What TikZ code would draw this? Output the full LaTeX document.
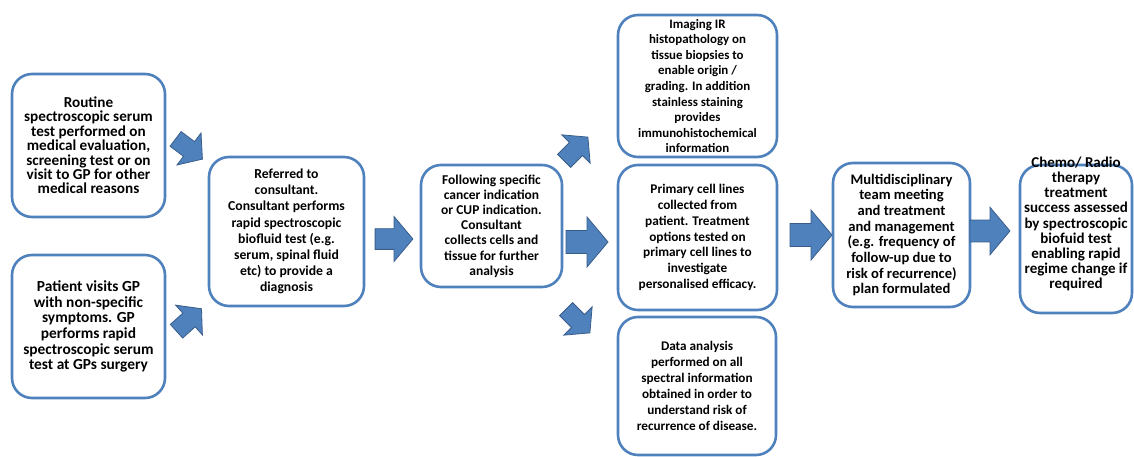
\documentclass[tikz,border=0pt]{standalone}
\usepackage{fontspec}
\setmainfont{Carlito}
\definecolor{boxblue}{HTML}{4F81BD}
\definecolor{arrowblue}{HTML}{4F81BD}
\definecolor{arrowedge}{HTML}{385D8A}
\newcommand{\stagefont}[2]{\bfseries\fontsize{#1}{#2}\selectfont}
\tikzset{
  stage/.style={draw=boxblue, line width=2.6pt, rounded corners=20pt, fill=white,
    align=center, text=black, inner sep=1pt, font=\stagefont{14}{15.6}},
  stagetext/.style={align=center, text=black, inner sep=0pt, font=\stagefont{15}{15.1}},
  flowarrow/.pic={
    \draw[fill=arrowblue, draw=arrowedge, line width=0.8pt, line join=miter]
      (-21,-11.5) -- (0,-11.5) -- (0,-25) -- (21,0) -- (0,25) -- (0,11.5) -- (-21,11.5) -- cycle;
  }
}
\begin{document}
\begin{tikzpicture}[x=1pt, y=-1pt]
  \useasboundingbox (0,0) rectangle (1134,457);

  % Entry points
  \node[stage, minimum width=153pt, minimum height=143pt, font=\stagefont{15.2}{14.4}]
    (routine) at (88.5,145.5)
    {Routine\\spectroscopic serum\\test performed on\\medical evaluation,\\screening test or on\\visit to GP for other\\medical reasons};
  \node[stage, minimum width=153pt, minimum height=143pt, font=\stagefont{15.4}{15.6}]
    (patient) at (88.5,326.5)
    {Patient visits GP\\with non-specific\\symptoms. GP\\performs rapid\\spectroscopic serum\\test at GPs surgery};

  % Consultant stages
  \node[stage, minimum width=155pt, minimum height=149pt, font=\stagefont{13.7}{16.1}]
    (referred) at (286.5,231.5)
    {Referred to\\consultant.\\Consultant performs\\rapid spectroscopic\\biofluid test (e.g.\\serum, spinal fluid\\etc) to provide a\\diagnosis};
  \node[stage, minimum width=141pt, minimum height=122pt, font=\stagefont{13.5}{15.2}]
    (following) at (491.5,226)
    {Following specific\\cancer indication\\or CUP indication.\\Consultant\\collects cells and\\tissue for further\\analysis};

  % Analysis branches
  \node[stage, minimum width=159pt, minimum height=142pt, font=\stagefont{12.9}{15.6}]
    (imaging) at (697.5,86)
    {Imaging IR\\histopathology on\\tissue biopsies to\\enable origin /\\grading. In addition\\stainless staining\\provides\\immunohistochemical\\information};
  \node[stage, minimum width=159pt, minimum height=145pt, font=\stagefont{13.3}{15.8}]
    (primary) at (697.5,237.5)
    {Primary cell lines\\collected from\\patient. Treatment\\options tested on\\primary cell lines to\\investigate\\personalised efficacy.};
  \node[stage, minimum width=158pt, minimum height=138pt, font=\stagefont{13.2}{16}]
    (dataan) at (697,386)
    {Data analysis\\performed on all\\spectral information\\obtained in order to\\understand risk of\\recurrence of disease.};

  % Treatment
  \node[stage, minimum width=137pt, minimum height=144pt, font=\stagefont{14.6}{15.7}]
    (mdt) at (901.5,235)
    {Multidisciplinary\\team meeting\\and treatment\\and management\\(e.g. frequency of\\follow-up due to\\risk of recurrence)\\plan formulated};
  \node[stage, minimum width=112pt, minimum height=148pt] (chemo) at (1076,239) {};
  \node[stagetext] (chemotext) at (1076,224)
    {Chemo/ Radio\\therapy\\treatment\\success assessed\\by spectroscopic\\biofuid test\\enabling rapid\\regime change if\\required};

  % Block arrows
  \pic[scale=0.8, rotate=-37] at (189,149) {flowarrow};
  \pic[scale=0.8, rotate=42] at (189,320) {flowarrow};
  \pic[scale=0.9] at (394,239) {flowarrow};
  \pic[scale=0.8, rotate=45] at (576,149) {flowarrow};
  \pic at (587,242) {flowarrow};
  \pic[scale=0.8, rotate=-45] at (578,321) {flowarrow};
  \pic at (811,235) {flowarrow};
  \pic[scale=0.95] at (990,231) {flowarrow};
\end{tikzpicture}
\end{document}
